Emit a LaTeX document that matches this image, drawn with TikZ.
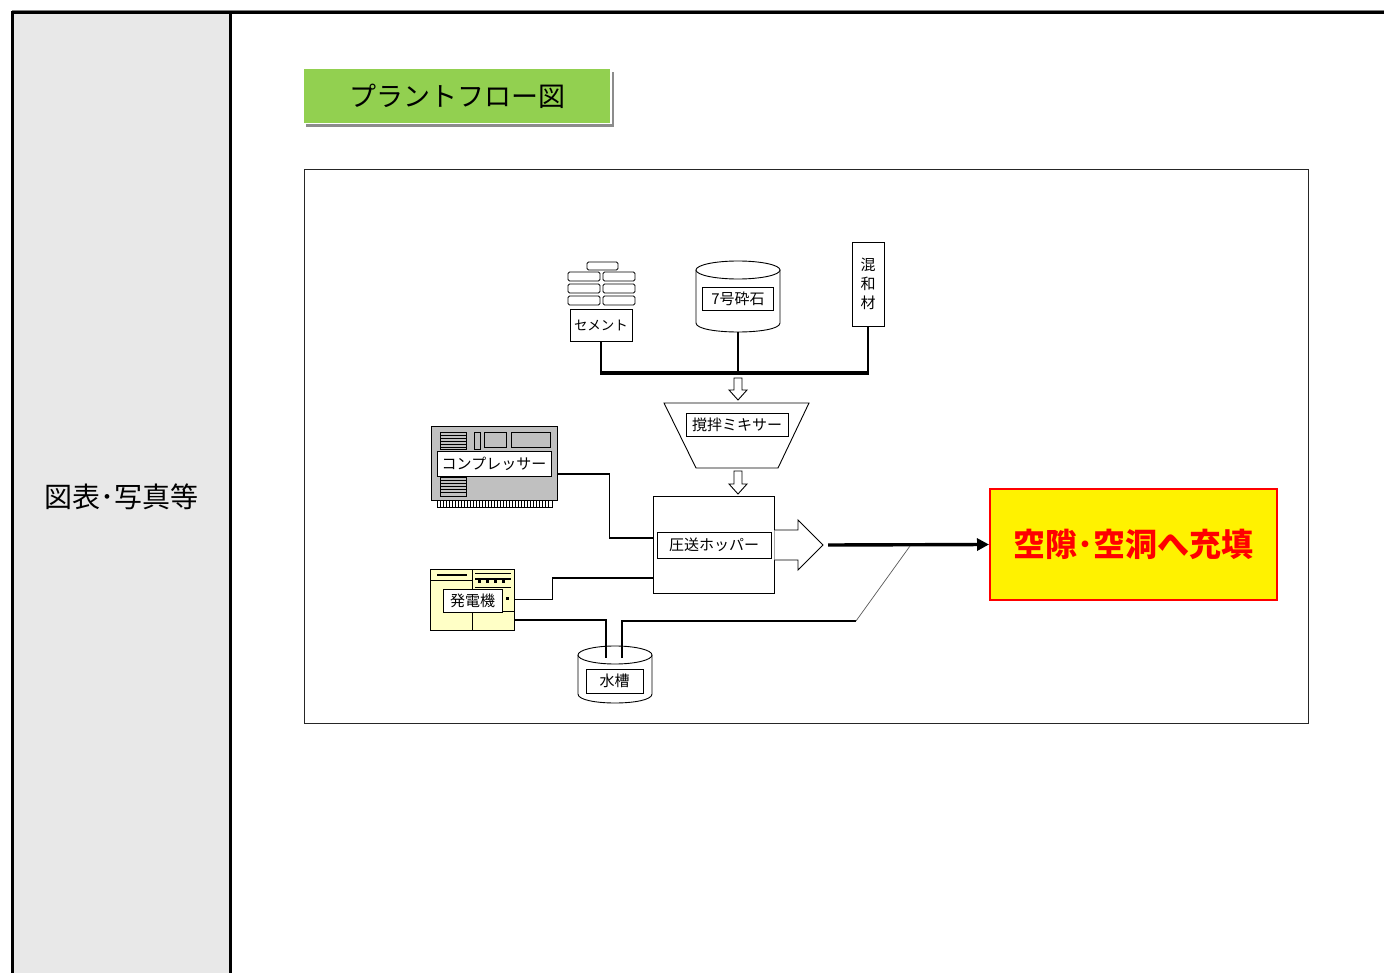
\documentclass[tikz,border=0pt]{standalone}
\usepackage{fontspec}
\setmainfont{Noto Sans CJK JP}
\usetikzlibrary{arrows.meta,shadows}
\definecolor{panelgray}{HTML}{E8E8E8}
\definecolor{titlegreen}{HTML}{92D050}
\definecolor{cmpgray}{HTML}{C0C0C0}
\definecolor{genyellow}{HTML}{FFFFC6}
\newcommand{\hdarrow}[3]{%
  \draw[fill=white,line width=0.9] (#1-4,#2) -- (#1+4,#2) -- (#1+4,#3-10) -- (#1+9,#3-10) -- (#1,#3) -- (#1-9,#3-10) -- (#1-4,#3-10) -- cycle;}
\begin{document}
\begin{tikzpicture}[x=1pt,y=-1pt,
  lbl/.style={draw,fill=white,line width=0.9,inner sep=0pt,font=\fontsize{15}{18}\selectfont},
  pipe/.style={line width=1.6},
  bus/.style={line width=3.2},
  part/.style={draw,line width=0.9}]
\fill[white] (0,0) rectangle (1384,973);
\useasboundingbox (0,0) rectangle (1384,973);
% frame
\fill[panelgray] (12,13) rectangle (230,973);
\draw[gray,line width=0.8] (12,10.5) -- (1384,10.5);
\draw[line width=3] (12,973) -- (12,13) -- (1384,13);
\draw[line width=3] (230,13) -- (230,973);
\node[font=\fontsize{28}{32}\selectfont] (side) at (121,497) {図表･写真等};
% title
\node[fill=titlegreen,draw=white,line width=1.5,minimum width=308,minimum height=55,inner sep=0pt,
  drop shadow={shadow xshift=3pt,shadow yshift=-4pt,fill=black,opacity=0.45},
  font=\fontsize{27}{31}\selectfont] (title) at (457,96) {プラントフロー図};
% diagram frame
\draw[line width=0.8,black!85] (304,169) rectangle (1308,723);
% cement bricks
\begin{scope}[rounded corners=1.5,line width=0.9]
\draw (587,262) rectangle (618,270);
\foreach \yy in {272,284,296}{
  \draw (568,\yy) rectangle (600,\yy+9);
  \draw (603,\yy) rectangle (635,\yy+9);}
\end{scope}
\node[lbl,minimum width=62,minimum height=32,font=\fontsize{13.5}{16}\selectfont] (cem) at (601,325) {セメント};
% gravel cylinder
\draw[fill=white,line width=0.9] (696,270) -- (696,323) .. controls (696,335) and (780,335) .. (780,323) -- (780,270);
\draw[fill=white,line width=0.9] (738,270) ellipse [x radius=42,y radius=9];
\coordinate (grvbot) at (738,332);
\node[lbl,minimum width=71,minimum height=23] (grv) at (738,298.5) {7号砕石};
% admixture
\node[lbl,minimum width=32,minimum height=84,align=center,font=\fontsize{15}{19}\selectfont] (adm) at (868,284) {混\\和\\材};
% bus
\coordinate (busL) at (601,373);
\coordinate (busM) at (738,373);
\coordinate (busR) at (868,373);
\draw[pipe] (cem.south) -- (busL);
\draw[pipe] (grvbot) -- (busM);
\draw[pipe] (adm.south) -- (busR);
\draw[bus] ([xshift=-0.8pt]busL) -- ([xshift=0.8pt]busR);
\hdarrow{738}{378}{400}
% mixer
\draw[fill=white,line width=0.9] (664,403) -- (809,403) -- (778,468) -- (696,468) -- cycle;
\node[lbl,minimum width=102,minimum height=23] (mix) at (737,424.5) {撹拌ミキサー};
\hdarrow{738}{471}{494}
% hopper
\node[draw,line width=0.9,minimum width=121,minimum height=97,inner sep=0pt] (hop) at (713.5,544.5) {};
\node[lbl,minimum width=114,minimum height=26] (hoplbl) at (714,545) {圧送ホッパー};
\draw[fill=white,line width=0.9] (hop.east |- 0,530) -- (798,530) -- (798,520) -- (823,545) -- (798,570) -- (798,560) -- (hop.east |- 0,560);
\coordinate (hopout) at (828,545);
% target
\node[fill=yellow,draw=red,line width=2,minimum width=287,minimum height=111,inner sep=0pt,
  text=red,font=\bfseries\fontsize{32}{36}\selectfont] (tgt) at (1133.5,544.5) {空隙･空洞へ充填};
\draw[line width=3.4,-{Triangle[length=12pt,width=12pt]}] (hopout) -- (tgt.west);
% compressor
\node[draw,fill=cmpgray,line width=1,minimum width=126,minimum height=74,inner sep=0pt] (cmpbox) at (494,463) {};
\begin{scope}[line width=0.9]
\draw[fill=white] (437,500) rectangle (552,507);
\foreach \xx in {440,443,...,550} \draw (\xx,500) -- (\xx,507);
\draw (440,432) rectangle (466,449);
\foreach \yy in {435,438,...,447} \draw (440,\yy) -- (466,\yy);
\draw (440,477) rectangle (466,496);
\foreach \yy in {480,483,...,494} \draw (440,\yy) -- (466,\yy);
\draw (474,432) rectangle (480,449);
\draw (484,432) rectangle (506,447);
\draw (511,432) rectangle (550,447);
\end{scope}
\node[lbl,minimum width=114,minimum height=25] (cmp) at (494,463.5) {コンプレッサー};
\draw[pipe] ([yshift=-11pt]cmpbox.east) -- ++(52,0) |- ([yshift=6.5pt]hop.west);
% generator
\node[draw,fill=genyellow,line width=1,minimum width=84,minimum height=61,inner sep=0pt] (genbox) at (472,599.5) {};
\begin{scope}[line width=0.9]
\draw (472,569) -- (472,630);
\draw (430,580) -- (472,580);
\draw[line width=2.2] (437,575) -- (467,575);
\draw (475,573) -- (511,573);
\draw[line width=1.6] (475,579) -- (511,579);
\foreach \xx in {478,486,494,502} \fill (\xx,579) rectangle (\xx+3,583);
\draw (475,587) -- (511,587);
\fill (506,597) rectangle (509,600);
\draw (472,611) -- (514,611);
\end{scope}
\node[lbl,minimum width=59,minimum height=23] (gen) at (472.5,600.5) {発電機};
\draw[pipe] (genbox.east) -- ++(38,0) |- ([yshift=-33.5pt]hop.west);
% water tank
\draw[fill=white,line width=0.9] (578,655) -- (578,694) .. controls (578,706) and (652,706) .. (652,694) -- (652,655);
\draw[fill=white,line width=0.9] (615,655) ellipse [x radius=37,y radius=9];
\node[lbl,minimum width=57,minimum height=24] (tnk) at (614.5,681) {水槽};
\coordinate (tnkL) at (606,658);
\coordinate (tnkR) at (622,658);
\coordinate (bend) at (856,621);
\coordinate (join) at (910,546);
\draw[pipe] ([yshift=-20.5pt]genbox.east) -| (tnkL);
\draw[line width=1.3] (tnkR) |- (bend);
\draw[gray!70!black,line width=0.7] (bend) -- (join);
\end{tikzpicture}
\end{document}
